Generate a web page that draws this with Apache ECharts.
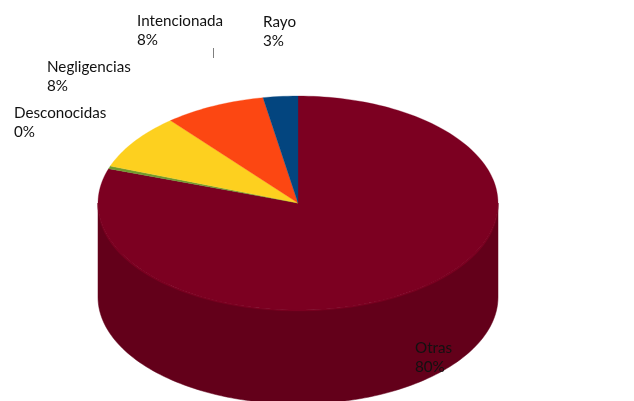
<!DOCTYPE html>
<html><head><meta charset="utf-8">
<style>html,body{margin:0;padding:0;background:#fff}#c{width:634px;height:401px}</style>
<script src="https://cdn.jsdelivr.net/npm/echarts@6/dist/echarts.min.js"></script>
</head><body><div id="c"></div>
<script>
const categories = ['Otras','Desconocidas','Negligencias','Intencionada','Rayo'];
const values = [80.2,0.4,8.4,8.2,2.8];
const topColors = ['#7c0021','#6f9a2e','#fdd01f','#fc4712','#03457f'];
const sideColors = ['#63001a','#55751f','#c9a418','#c8380e','#023460'];
const labelAnchors = [[415,339],[14,104],[47,58],[137,12],[263,13]];

const total = values.reduce((a,b)=>a+b,0);
const cx=298, cy=203, rx=200, ry=107, depth=94, bevelDrop=3, bevelRy=105;
const pt=(deg,c,r)=>{const t=deg*Math.PI/180;return [cx+rx*Math.sin(t),c-r*Math.cos(t)];};
const startOf=i=>values.slice(0,i).reduce((a,b)=>a+b,0)/total*360;
const arc=(a,b,c,r)=>{const n=Math.max(2,Math.ceil((b-a)/1.5));const out=[];for(let k=0;k<=n;k++)out.push(pt(a+(b-a)*k/n,c,r));return out;};

const chart=echarts.init(document.getElementById('c'),null,{renderer:'canvas'});
const rows=values.map((v,i)=>({value:[v,i],name:categories[i]}));
const frontSpan=(api)=>{const i=api.value(1),a=startOf(i),b=a+api.value(0)/total*360;return [i,Math.max(a,90),Math.min(b,270)];};
chart.setOption({
  animation:false,
  backgroundColor:'#fff',
  series:[
   {type:'custom',coordinateSystem:'none',silent:true,z:1,data:rows,
    renderItem(p,api){
      const [i,s,e]=frontSpan(api);
      if(e<=s)return {type:'group',children:[]};
      const pts=arc(s,e,cy,ry).concat(arc(s,e,cy+depth,ry).reverse());
      return {type:'polygon',shape:{points:pts},style:{fill:sideColors[i],stroke:sideColors[i],lineWidth:0.5}};
    }},
   {type:'custom',coordinateSystem:'none',silent:true,z:2,data:rows,
    renderItem(p,api){
      const [i,s,e]=frontSpan(api);
      if(e<=s)return {type:'group',children:[]};
      const pts=arc(s,e,cy,ry).concat(arc(s,e,cy+bevelDrop,bevelRy).reverse());
      return {type:'polygon',shape:{points:pts},style:{fill:topColors[i],stroke:topColors[i],lineWidth:0.3}};
    }},
   {type:'custom',coordinateSystem:'none',silent:true,z:3,data:rows,
    renderItem(p,api){
      const i=api.value(1),a=startOf(i),b=a+api.value(0)/total*360;
      const pts=[[cx,cy]].concat(arc(a,b,cy,ry));
      return {type:'polygon',shape:{points:pts},style:{fill:topColors[i],stroke:topColors[i],lineWidth:0.3}};
    }},
   {type:'custom',coordinateSystem:'none',silent:true,z:4,data:rows,
    renderItem(p,api){
      const i=api.value(1),pct=Math.round(api.value(0)/total*100);
      return {type:'text',x:labelAnchors[i][0],y:labelAnchors[i][1],
        style:{text:categories[i]+'\n'+pct+'%',fill:'#111',font:'15.2px Lato',lineHeight:18.5,textAlign:'left',textVerticalAlign:'top'}};
    }}
  ],
  graphic:[{type:'line',shape:{x1:213.5,y1:48,x2:213.5,y2:58},style:{stroke:'#7f7f7f',lineWidth:1},z:5}]
});
</script></body></html>
